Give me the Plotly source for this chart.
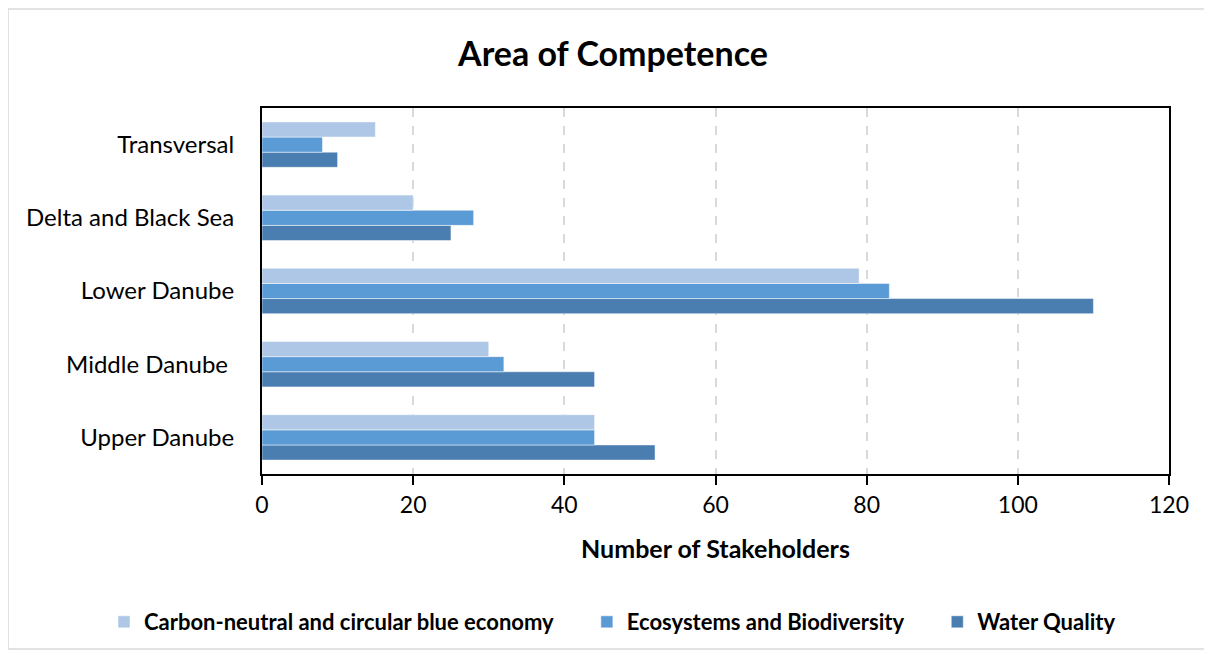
import plotly.graph_objects as go

categories = ["Upper Danube", "Middle Danube ", "Lower Danube", "Delta and Black Sea", "Transversal"]
water_quality = [52, 44, 110, 25, 10]
ecosystems = [44, 32, 83, 28, 8]
carbon_neutral = [44, 30, 79, 20, 15]
x_ticks = [0, 20, 40, 60, 80, 100, 120]

series = [
    ("Water Quality", water_quality, "#4A7EB0"),
    ("Ecosystems and Biodiversity", ecosystems, "#5B9BD5"),
    ("Carbon-neutral and circular blue economy", carbon_neutral, "#AEC7E6"),
]

FONT = "Lato, Carlito, Calibri, sans-serif"
OFF = 7  # page offset of the figure in the browser

fig = go.Figure()
for i, (name, vals, col) in enumerate(series):
    pad = "" if i == 0 else "&nbsp;" * 5
    fig.add_trace(go.Bar(
        y=categories, x=vals, name="<b>" + name + "</b>" + pad, orientation="h",
        marker=dict(color=col, line=dict(color="rgba(255,255,255,0.6)", width=0.8)),
    ))

fig.update_layout(
    width=1212, height=655,
    margin=dict(l=261 - OFF, r=1212 - (1168 - OFF), t=107 - OFF, b=655 - (473 - OFF), autoexpand=False),
    paper_bgcolor="white", plot_bgcolor="white",
    barmode="group", bargap=0.38, bargroupgap=0,
    font=dict(family=FONT, color="black", size=20),
    title=dict(text="<b>Area of Competence</b>", x=(612 - OFF) / 1212, xanchor="center",
               y=1 - (53 - OFF) / 655, yanchor="middle", yref="container",
               font=dict(size=34, family=FONT, color="black")),
    legend=dict(orientation="h", traceorder="reversed",
                xref="paper", x=(103 - 261) / 907, xanchor="left",
                yref="paper", y=(473 - 621) / 366, yanchor="middle",
                font=dict(size=22, family=FONT, color="black"),
                itemwidth=30, bgcolor="rgba(0,0,0,0)"),
    showlegend=True,
)

fig.update_xaxes(
    range=[0, 120], tickvals=x_ticks, ticktext=[str(t) for t in x_ticks],
    tickangle=0, automargin=False,
    showgrid=True, gridcolor="#D9D9D9", griddash="dash", gridwidth=2,
    showline=True, linecolor="black", linewidth=2, mirror=True,
    ticks="outside", ticklen=9, tickwidth=1.5, tickcolor="black",
    tickfont=dict(size=23, family=FONT),
    zeroline=False,
    title=dict(text="<b>Number of Stakeholders</b>", standoff=24,
               font=dict(size=25, family=FONT)),
)
fig.update_yaxes(
    automargin=False,
    showgrid=False, showline=True, linecolor="black", linewidth=2, mirror=True,
    ticks="", ticklabelstandoff=21, tickfont=dict(size=24, family=FONT),
)

# outer chart border
fig.add_shape(type="rect", xref="paper", yref="paper",
              x0=(7 - 261) / 907, x1=(1205 - 261) / 907,
              y0=(473 - 648) / 366, y1=(473 - 8) / 366,
              line=dict(color="#D9D9D9", width=1.5), layer="below")

fig.write_html("out.html")
